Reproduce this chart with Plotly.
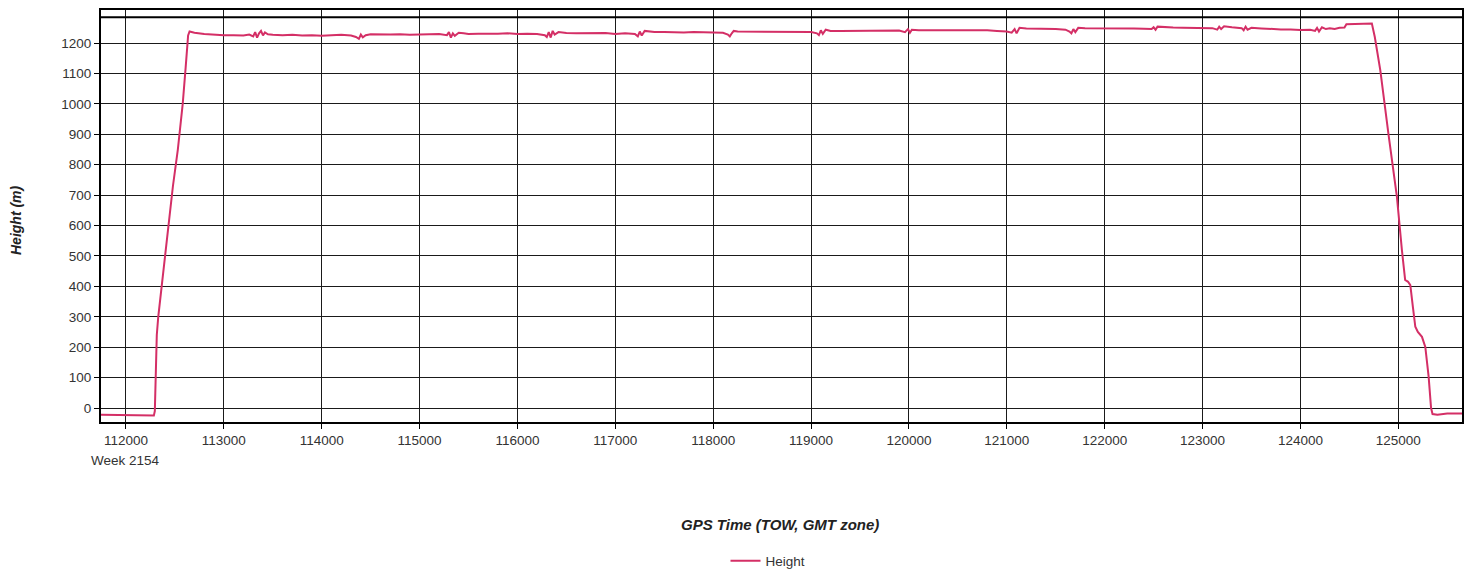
import plotly.graph_objects as go

# GPS time of week (s) and ellipsoidal height (m)
gps_time = [
    111745, 111900, 112000, 112100, 112200, 112285, 112295, 112305, 112315, 112330,
    112380, 112430, 112480, 112530, 112580, 112610, 112635, 112650, 112700, 112800,
    112900, 113000, 113100, 113200, 113260, 113300, 113320, 113340, 113360, 113380,
    113400, 113420, 113450, 113500, 113600, 113700, 113800, 113900, 114000, 114100,
    114200, 114300, 114350, 114380, 114400, 114420, 114450, 114500, 114600, 114700,
    114800, 114900, 115000, 115100, 115200, 115280, 115300, 115320, 115340, 115360,
    115400, 115450, 115500, 115600, 115700, 115800, 115900, 116000, 116100, 116200,
    116280, 116300, 116320, 116340, 116360, 116380, 116420, 116500, 116600, 116700,
    116800, 116900, 117000, 117100, 117200, 117230, 117250, 117270, 117300, 117350,
    117400, 117500, 117600, 117700, 117800, 117900, 118000, 118100, 118150, 118170,
    118190, 118210, 118250, 118300, 118400, 118500, 118600, 118700, 118800, 118900,
    119000, 119060, 119080, 119100, 119120, 119150, 119200, 119300, 119400, 119500,
    119600, 119700, 119800, 119900, 119960, 119990, 120010, 120030, 120100, 120200,
    120300, 120400, 120500, 120600, 120700, 120800, 120900, 121000, 121050, 121080,
    121100, 121130, 121200, 121300, 121400, 121500, 121600, 121640, 121660, 121680,
    121700, 121730, 121800, 121900, 122000, 122100, 122200, 122300, 122400, 122480,
    122500, 122520, 122540, 122600, 122700, 122800, 122900, 123000, 123100, 123150,
    123170, 123190, 123220, 123300, 123400, 123420, 123440, 123460, 123500, 123600,
    123700, 123800, 123900, 124000, 124100, 124150, 124170, 124190, 124220, 124260,
    124300, 124350, 124400, 124450, 124470, 124550, 124650, 124730, 124760, 124816,
    124900, 124986, 125037, 125070, 125100, 125123, 125150, 125174, 125200, 125242,
    125276, 125310, 125335, 125350, 125400, 125450, 125500, 125600, 125651,
]
height_m = [
    -22, -23, -25, -25, -25, -25, -10, 100, 240, 300,
    450, 590, 730, 850, 1000, 1120, 1225, 1238, 1234, 1230,
    1227, 1226, 1226, 1225, 1228, 1222, 1236, 1218, 1232, 1240,
    1225, 1235, 1229, 1227, 1226, 1227, 1225, 1226, 1224, 1226,
    1227, 1225, 1220, 1214, 1228, 1219, 1226, 1229, 1228, 1228,
    1229, 1227, 1228, 1229, 1230, 1226, 1236, 1218, 1232, 1224,
    1234, 1232, 1230, 1231, 1230, 1231, 1232, 1230, 1231, 1230,
    1226, 1220, 1236, 1218, 1240, 1228, 1236, 1233, 1232, 1233,
    1232, 1233, 1230, 1232, 1230, 1222, 1238, 1225, 1240, 1237,
    1236, 1236, 1235, 1235, 1236, 1236, 1235, 1234, 1228, 1222,
    1232, 1240, 1238, 1238, 1238, 1237, 1237, 1238, 1237, 1238,
    1236, 1232, 1226, 1242, 1230, 1244, 1240, 1240, 1240, 1239,
    1240, 1241, 1240, 1241, 1236, 1246, 1234, 1244, 1242, 1242,
    1243, 1243, 1242, 1243, 1243, 1242, 1240, 1238, 1234, 1246,
    1232, 1250, 1248, 1248, 1247, 1246, 1244, 1238, 1232, 1246,
    1236, 1250, 1249, 1249, 1249, 1250, 1250, 1248, 1247, 1246,
    1252, 1244, 1254, 1252, 1251, 1250, 1250, 1250, 1249, 1244,
    1254, 1246, 1255, 1252, 1249, 1242, 1254, 1244, 1250, 1248,
    1246, 1245, 1245, 1243, 1244, 1240, 1250, 1238, 1252, 1246,
    1249, 1246, 1250, 1251, 1262, 1263, 1263, 1264, 1220, 1111,
    900, 694, 519, 421, 415, 404, 330, 267, 250, 234,
    201, 103, 0, -20, -22, -19, -18, -18, -18,
]

x_ticks = list(range(112000, 125001, 1000))
y_ticks = list(range(0, 1201, 100))
x_range = [111745, 125651]
y_range = [-46, 1312]
inner_top = 1285

FONT = "Liberation Sans, Arial, sans-serif"
LINE_COLOR = "#D42F66"
TICK_SIZE = 13.5

# page body has an 8px margin; plot area spans screen x 101..1462, y 9..422
W, H = 1457, 565
PL, PT, PR, PB = 93, 1, 1454, 414
plot_w, plot_h = PR - PL, PB - PT


def py(screen_y):
    return (422 - screen_y) / plot_h


def px(screen_x):
    return (screen_x - 101) / plot_w


fig = go.Figure()
fig.add_trace(go.Scatter(
    x=gps_time, y=height_m, mode="lines", name="Height",
    line=dict(color=LINE_COLOR, width=2),
))

axis_common = dict(
    showline=True, linecolor="black", linewidth=2, mirror=True,
    showgrid=True, gridcolor="#1a1a1a", gridwidth=1,
    ticks="outside", ticklen=5, tickcolor="black", tickwidth=1,
    tickfont=dict(family=FONT, size=TICK_SIZE, color="#333333"),
    zeroline=False,
)

fig.update_layout(
    width=W, height=H,
    margin=dict(l=PL, r=W - PR, t=PT, b=H - PB, autoexpand=False),
    paper_bgcolor="white", plot_bgcolor="white",
    font=dict(family=FONT, size=12, color="#333333"),
    xaxis=dict(range=x_range, tickvals=x_ticks,
               ticktext=[str(v) for v in x_ticks], **axis_common),
    yaxis=dict(range=y_range, tickvals=y_ticks,
               ticktext=[str(v) for v in y_ticks], **axis_common),
    showlegend=True,
    legend=dict(orientation="h", x=px(768), xanchor="center",
                y=py(561), yanchor="middle",
                font=dict(family=FONT, size=13.5, color="#333333"),
                itemwidth=30),
    shapes=[
        dict(type="line", xref="paper", x0=0, x1=1,
             yref="y", y0=inner_top, y1=inner_top,
             line=dict(color="black", width=2)),
        dict(type="line", xref="paper", x0=0, x1=1,
             yref="paper", y0=1, y1=1,
             line=dict(color="black", width=2)),
    ],
    annotations=[
        dict(text="Week 2154", x=112000, xref="x", y=py(460), yref="paper",
             showarrow=False, xanchor="center", yanchor="middle",
             font=dict(family=FONT, size=TICK_SIZE, color="#333333")),
        dict(text="<b><i>GPS Time (TOW, GMT zone)</i></b>", x=px(780), xref="paper",
             y=py(524), yref="paper", showarrow=False, xanchor="center",
             yanchor="middle", font=dict(family=FONT, size=15, color="#222222")),
        dict(text="<b><i>Height (m)</i></b>", x=px(16), xref="paper", y=py(220),
             yref="paper", showarrow=False, textangle=-90, xanchor="center",
             yanchor="middle", font=dict(family=FONT, size=14, color="#222222")),
    ],
)

fig.write_html("out.html")
